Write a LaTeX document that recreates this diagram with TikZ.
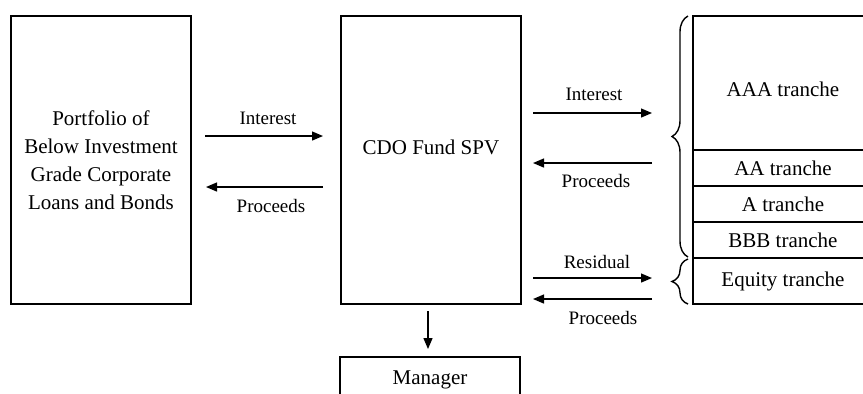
\documentclass[tikz,border=0pt]{standalone}
\usepackage{fontspec}
\setmainfont{Liberation Serif}
\usetikzlibrary{arrows.meta,decorations.pathreplacing}
\begin{document}
\begin{tikzpicture}[x=0.5pt,y=-0.5pt,
  box/.style={draw, line width=0.9pt, inner sep=0pt, outer sep=0pt, minimum width=90pt, font=\fontsize{10.5}{14}\selectfont, align=center},
  arr/.style={line width=0.65pt, -{Triangle[length=5.5pt,width=4.5pt]}},
  lbl/.style={font=\fontsize{9.5}{11}\selectfont, inner sep=0pt, anchor=base},
  txt/.style={font=\fontsize{10.5}{14}\selectfont, inner sep=0pt},
  brc/.style={decorate, decoration={brace, amplitude=8pt}, line width=0.7pt}]
\useasboundingbox (0,0) rectangle (863,393);
\clip (0,0) rectangle (863,393);
% boxes
\node[box, minimum height=144pt] (port) at (101,160) {Portfolio of\\Below Investment\\Grade Corporate\\Loans and Bonds};
\node[box, minimum height=144pt] (spv) at (431,160) {};
\node[txt] (spvt) at (431,147) {CDO Fund SPV};
\node[box, minimum height=23pt, anchor=north] (mgr) at (430,357) {Manager};
% tranches
\node[box, minimum height=67pt, anchor=north west] (aaa) at (693,16) {};
\node[txt] (aaat) at (783,89) {AAA tranche};
\node[box, minimum height=18pt, anchor=north] (aa) at (aaa.south) {AA tranche};
\node[box, minimum height=18pt, anchor=north] (atr) at (aa.south) {A tranche};
\node[box, minimum height=18pt, anchor=north] (bbb) at (atr.south) {BBB tranche};
\node[box, minimum height=23pt, anchor=north] (eq) at (bbb.south) {Equity tranche};
% left arrows
\draw[arr, shorten <=7pt, shorten >=9pt] (port.east |- 0,136) -- (spv.west |- 0,136);
\draw[arr, shorten <=9pt, shorten >=7.5pt] (spv.west |- 0,187) -- (port.east |- 0,187);
\node[lbl] (l1) at (268,124) {Interest};
\node[lbl] (l2) at (271,212) {Proceeds};
% right arrows
\draw[arr, shorten <=6pt, shorten >=20.5pt] (spv.east |- 0,113) -- (aaa.west |- 0,113);
\draw[arr, shorten <=20.5pt, shorten >=6pt] (aaa.west |- 0,163) -- (spv.east |- 0,163);
\draw[arr, shorten <=6pt, shorten >=20.5pt] (spv.east |- 0,278) -- (eq.west |- 0,278);
\draw[arr, shorten <=20.5pt, shorten >=6pt] (eq.west |- 0,299) -- (spv.east |- 0,299);
\node[lbl] (l3) at (594,100) {Interest};
\node[lbl] (l4) at (596,187) {Proceeds};
\node[lbl] (l5) at (597,268) {Residual};
\node[lbl] (l6) at (603,324) {Proceeds};
% down arrow
\draw[arr, shorten <=3.5pt, shorten >=4pt] ([xshift=-1.5pt]spv.south) -- ([xshift=-1pt]mgr.north);
% braces
\draw[brc] ([xshift=-2.5pt,yshift=0.5pt]bbb.south west) -- ([xshift=-2.5pt]aaa.north west);
\draw[brc] ([xshift=-2.5pt]eq.south west) -- ([xshift=-2.5pt,yshift=-0.5pt]eq.north west);
\end{tikzpicture}
\end{document}
